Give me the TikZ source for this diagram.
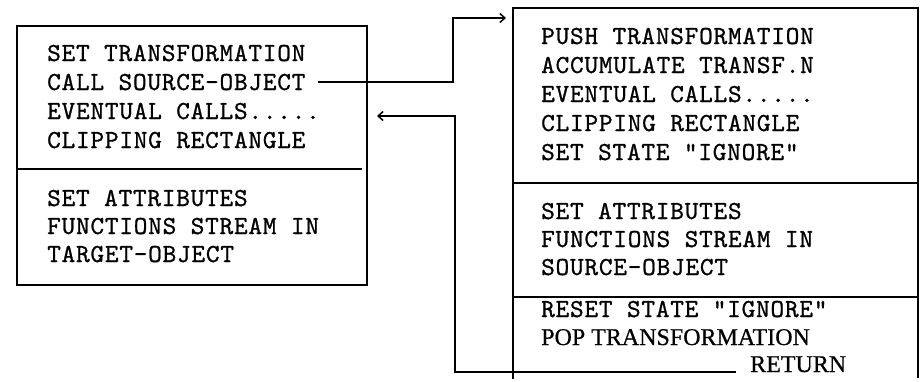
\documentclass[tikz,border=0pt]{standalone}
\usepackage{fontspec}
\newfontfamily\typewr{lmmono10-regular.otf}[LetterSpace=3,FakeBold=0.9]
\newfontfamily\printrm{Liberation Serif}[FakeBold=0.6]
\usetikzlibrary{arrows.meta}

\tikzset{
  typed/.style={font=\typewr\fontsize{26}{26}\selectfont, anchor=base west, inner sep=0pt},
  printed/.style={font=\printrm\fontsize{24}{24}\selectfont, anchor=base west, inner sep=0pt},
  frame/.style={line width=1.5pt},
  flow/.style={line width=1.5pt, -{Straight Barb[length=5pt,width=9pt]}}
}

\begin{document}
\begin{tikzpicture}[x=1pt, y=-1pt]
\useasboundingbox (0,0) rectangle (924,381);
% target object
\draw[frame] (17,26) rectangle (367,285);
\draw[frame] (17,169) -- (362,169);
\node[typed] (settr) at (47,61) {SET TRANSFORMATION};
\node[typed] (call) at (47,90) {CALL SOURCE-OBJECT};
\node[typed] (evtl) at (47,119) {EVENTUAL CALLS.....};
\node[typed] (clipl) at (47,148) {CLIPPING RECTANGLE};
\node[typed] (attrl) at (47,206) {SET ATTRIBUTES};
\node[typed] (funcl) at (47,234) {FUNCTIONS STREAM IN};
\node[typed] (target) at (47,262) {TARGET-OBJECT};
% source object
\draw[frame] (513,379) -- (513,8) -- (918,8) -- (918,378);
\draw[frame] (513,183) -- (918,183);
\draw[frame] (513,297) -- (918,297);
\node[typed] (push) at (541,44) {PUSH TRANSFORMATION};
\node[typed] (accum) at (541,73) {ACCUMULATE TRANSF.N};
\node[typed] (evtr) at (541,102) {EVENTUAL CALLS.....};
\node[typed] (clipr) at (541,131) {CLIPPING RECTANGLE};
\node[typed] (ignore) at (541,160) {SET STATE "IGNORE"};
\node[typed] (attrr) at (541,219) {SET ATTRIBUTES};
\node[typed] (funcr) at (541,247) {FUNCTIONS STREAM IN};
\node[typed] (source) at (541,275) {SOURCE-OBJECT};
\node[typed] (reset) at (541,317) {RESET STATE "IGNORE"};
\node[printed] (pop) at (541,345) {POP TRANSFORMATION};
\node[printed] (ret) at (750,372) {RETURN};
% call and return
\coordinate (hop) at (453,18);
\coordinate (rin) at (506,18);
\draw[flow] ([xshift=12pt]call.east) -| (hop) -- (rin);
\coordinate (back) at (455,116);
\coordinate (lin) at (377,116);
\draw[flow] ([xshift=-14pt]ret.base west) -| (back) -- (lin);
\end{tikzpicture}
\end{document}
